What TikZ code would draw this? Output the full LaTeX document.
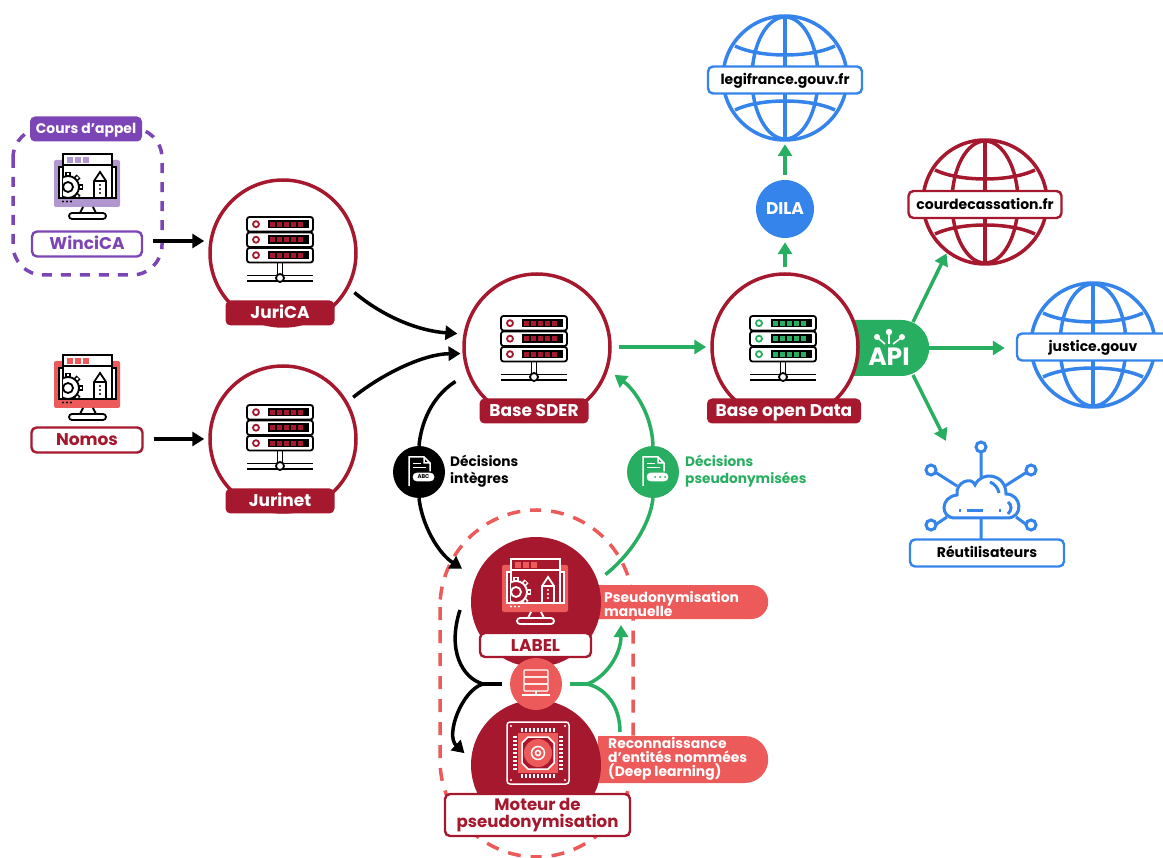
\documentclass[tikz,border=0pt]{standalone}
\usepackage{fontspec}
\setmainfont{Poppins}
\usetikzlibrary{arrows.meta, shapes.misc}

\definecolor{rouge}{HTML}{A5182E}
\definecolor{corail}{HTML}{EC5A5A}
\definecolor{vert}{HTML}{28AE60}
\definecolor{bleu}{HTML}{3584EC}
\definecolor{violet}{HTML}{7B45B5}
\definecolor{violetclair}{HTML}{B197CF}

\tikzset{
  base/.style={circle, draw=rouge, line width=3.5pt, fill=white, minimum size=146pt, inner sep=0pt},
  rond/.style={circle, fill=#1, minimum size=52pt, inner sep=0pt},
  plein/.style={circle, fill=rouge, minimum size=130pt, inner sep=0pt},
  monde/.style={circle, minimum size=126pt, inner sep=0pt},
  etiquette/.style={rectangle, rounded corners=5pt, fill=rouge, text=white, font=\bfseries\fontsize{17}{18}\selectfont, inner sep=0pt, minimum height=25pt, text height=13pt, text depth=1pt},
  cadre/.style={rectangle, rounded corners=5pt, draw=#1, fill=white, line width=2.4pt, inner sep=0pt, minimum height=27pt, text height=11pt, text depth=1pt, font=\bfseries\fontsize{14}{15}\selectfont},
  grandcadre/.style={cadre=#1, text=#1, minimum width=111pt, minimum height=25pt, text height=13pt, text depth=1pt, font=\bfseries\fontsize{17}{18}\selectfont},
  pilule/.style={rounded rectangle, rounded rectangle left arc=none, fill=corail, inner sep=0pt, anchor=west, minimum width=170pt},
  pilutexte/.style={text=white, align=left, anchor=west, inner sep=0pt, font=\bfseries\fontsize{13.9}{14}\selectfont},
  legende/.style={align=left, anchor=west, inner sep=0pt, font=\bfseries\fontsize{13.7}{17}\selectfont},
  tirets/.style={line width=3.5pt, dash pattern=on 13pt off 10pt},
  traitnoir/.style={black, line width=3.5pt},
  flechenoire/.style={traitnoir, -{Triangle[length=12pt,width=14pt]}},
  traitvert/.style={vert, line width=3.5pt},
  flecheverte/.style={traitvert, -{Triangle[length=12pt,width=14pt]}},
  pics/serveur/.style={code={
    \foreach \ry in {-33,-17.5,-2}{
      \draw[black, line width=1.8pt, rounded corners=2.5pt, fill=white] (-33,\ry) rectangle (33,\ry+14.5);
      \draw[#1, line width=1.8pt] (-24,\ry+7.2) circle (3pt);
      \fill[black] (-12,\ry+3) rectangle (29,\ry+11.5);
      \foreach \cx in {-10.5,-3.5,...,24}
        \fill[#1] (\cx,\ry+4.7) rectangle +(5.2,5);
    }
    \draw[black, line width=1.8pt] (-2.5,12.5) -- (-2.5,25) (2.5,12.5) -- (2.5,25);
    \draw[black, line width=1.8pt] (-33,25.5) -- (33,25.5) (-33,31) -- (33,31);
    \draw[black, line width=1.8pt, fill=white] (0,28) circle (4pt);
  }},
  pics/ecran/.style n args={3}{code={
    \fill[#2, rounded corners=2pt] (-34,-26) rectangle (32,21);
    \draw[#1, line width=1.8pt, fill=#3] (-29,-19) rectangle (28,12);
    \draw[#1, line width=1.8pt, fill=#3] (-25,-21) rectangle (24,12);
    \draw[#1, line width=1.8pt, fill=#3] (-25,-32) rectangle (24,-21);
    \foreach \cx in {-21,-13,-5}
      \fill[#2] (\cx,-29) rectangle +(6,6);
    \begin{scope}
      \clip (-25,-21) rectangle (24,11);
      \foreach \a in {0,45,...,315}{
        \draw[#1, line width=5.5pt] (-20,1)+(\a:11) -- +(\a:15);
        \draw[#3, line width=2.2pt] (-20,1)+(\a:11) -- +(\a:14);
      }
      \draw[#1, line width=1.8pt, fill=#3] (-20,1) circle (11pt);
      \draw[#1, line width=1.8pt] (-20,1) circle (5pt);
    \end{scope}
    \draw[#1, line width=1.8pt] (6,12) -- (6,-5) -- (12,-14) -- (18,-5) -- (18,12) (6,-5) -- (18,-5);
    \foreach \cy in {-1,3,7}
      \fill[#1] (12,\cy) circle (1.2pt);
    \foreach \cx in {-25,-21,-17}
      \fill[#1] (\cx,15.5) circle (1.2pt);
    \draw[#1, line width=1.8pt] (-5,21) -- (-8,27) (5,21) -- (8,27);
    \draw[#1, line width=1.8pt, rounded corners=3pt] (-19,27) rectangle (18,33);
  }},
  pics/globe/.style={code={
    \draw[#1, line width=3.5pt] (0,0) circle (62pt);
    \draw[#1, line width=3.5pt] (0,-62) -- (0,62);
    \draw[#1, line width=3.5pt] (0,0) ellipse (33pt and 61pt);
    \draw[#1, line width=3.5pt] (-50,-32) .. controls (-25,-20) and (25,-20) .. (50,-32);
    \draw[#1, line width=3.5pt] (-50,32) .. controls (-25,20) and (25,20) .. (50,32);
  }},
  pics/puce/.style={code={
    \draw[white, line width=1.5pt, rounded corners=3pt] (-31,-31) rectangle (31,31);
    \foreach \p in {-16,-12,...,16}{
      \draw[white, line width=1.5pt] (\p,-25) -- (\p,-21) (\p,21) -- (\p,25);
      \draw[white, line width=1.5pt] (-25,\p) -- (-21,\p) (21,\p) -- (25,\p);
    }
    \fill[corail] (-20,-20) rectangle (20,20);
    \draw[white, line width=1.5pt, fill=rouge] (-10,-16) -- (10,-16) -- (16,-10) -- (16,10) -- (10,16) -- (-10,16) -- (-16,10) -- (-16,-10) -- cycle;
    \fill[corail] (0,0) circle (14pt);
    \draw[white, line width=1.5pt] (0,0) circle (6.5pt);
    \draw[white, line width=1.5pt] (0,0) circle (2.5pt);
    \foreach \cx/\cy in {-27/-27,27/-27,-27/27,27/27}
      \fill[white] (\cx,\cy) circle (1.2pt);
  }},
  pics/document/.style={code={
    \draw[white, line width=1.5pt] (-10,14) -- (-10,-15) -- (5,-15) -- (11,-9) -- (11,0) (5,-15) -- (5,-9) -- (11,-9);
    \draw[white, line width=1pt] (-6,-8) -- (2,-8) (-6,-4) -- (7,-4);
    \draw[#1, line width=1.2pt, fill=white, rounded corners=4.5pt] (-7,0) rectangle (16,10);
  }}
}

\begin{document}
\begin{tikzpicture}[x=1pt, y=-1pt]
\useasboundingbox (0,0) rectangle (1163,858);

% groupes en tirets
\draw[violet, tirets, rounded corners=30pt, dash pattern=on 10pt off 9pt] (13,128) rectangle (162,275);
\draw[corail, tirets, rounded corners=97pt] (440,510) rectangle (633,857);

% cours d'appel
\node[etiquette, fill=violet, minimum width=112pt, text height=10pt, font=\bfseries\fontsize{13.9}{15}\selectfont] (cours) at (86,129) {Cours d’appel};
\pic at (88,186) {ecran={black}{violetclair}{white}};
\node[grandcadre=violet, minimum width=110pt] (winci) at (87,244) {WinciCA};

\pic at (88,387) {ecran={black}{corail}{white}};
\node[grandcadre=rouge] (nomos) at (87,440) {Nomos};

% API
\node[rounded rectangle, rounded rectangle left arc=none, fill=vert, anchor=west, minimum width=76pt, minimum height=56pt, inner sep=0pt] (api) at (853,348) {};
\node[text=white, inner sep=0pt, font=\bfseries\fontsize{25}{26}\selectfont] (apitxt) at (889,357) {API};
\draw[white, line width=1.6pt] (878,338) -- (885,344) (889,333) -- (889,344) (901,338) -- (893,344);
\fill[white] (877,337) circle (3pt) (889,332) circle (3.2pt) (902,337) circle (3pt);

% bases
\node[base] (jurica) at (283,253) {};
\pic at (280,250) {serveur=rouge};
\node[etiquette, minimum width=109pt] (juricatxt) at (280,313) {JuriCA};

\node[base] (jurinet) at (283,439) {};
\pic at (280,438) {serveur=rouge};
\node[etiquette, minimum width=109pt] (jurinettxt) at (280,501) {Jurinet};

\node[base] (sder) at (537,347) {};
\pic at (534,349) {serveur=rouge};
\node[etiquette, minimum width=109pt] (sdertxt) at (534,411) {Base SDER};

\node[base] (opendata) at (785,347) {};
\pic at (783,349) {serveur=vert};
\node[etiquette, minimum width=154pt] (opendatatxt) at (784,411) {Base open Data};

% sites
\node[monde] (legiglobe) at (785,78) {};
\pic at (785,78) {globe=bleu};
\node[cadre=bleu, minimum width=154pt] (legi) at (785,80) {legifrance.gouv.fr};

\node[monde] (courglobe) at (985,202) {};
\pic at (985,202) {globe=rouge};
\node[cadre=rouge, minimum width=153pt] (cour) at (985,204.5) {courdecassation.fr};

\node[monde] (justiceglobe) at (1093,345) {};
\pic at (1093,345) {globe=bleu};
\node[cadre=bleu, minimum width=152pt] (justice) at (1093,347) {justice.gouv};

\node[rond=bleu, minimum size=58pt, text=white, font=\bfseries\fontsize{17}{18}\selectfont] (dila) at (785,209) {DILA};

% reutilisateurs
\begin{scope}[bleu, line width=3pt]
  \draw (981,478) -- (981,452) (957,486) -- (935,472) (1005,486) -- (1027,472);
  \draw (947,517) -- (935,525) (1016,517) -- (1027,525) (981,518) -- (981,539);
  \draw (981,447) circle (5pt) (931,470) circle (5pt) (1031,470) circle (5pt);
  \draw (931,525) circle (5pt) (1031,525) circle (5pt);
  \draw[fill=white] (955,518) .. controls (940,518) and (940,497) .. (957,495)
    .. controls (955,482) and (972,476) .. (975,485)
    .. controls (982,470) and (1006,474) .. (1006,494)
    .. controls (1022,494) and (1024,518) .. (1007,518) -- cycle;
  \draw (967,511) -- (983,511) (959,511) -- (961,511) (999,511) -- (1001,511);
  \draw (990,482) .. controls (995,484) and (998,488) .. (999,493);
  \draw (1008,502) .. controls (1012,505) and (1012,510) .. (1008,514);
\end{scope}
\node[cadre=bleu, minimum width=154pt] (reutil) at (987,553) {Réutilisateurs};

% pseudonymisation
\node[pilule, minimum height=34pt] (manuelle) at (598,602) {};
\node[pilule, minimum height=47pt] (entites) at (598,759.5) {};
\node[pilutexte] (manuelletxt) at (604,603.5) {Pseudonymisation\\manuelle};
\node[pilutexte] (entitestxt) at (608,759) {Reconnaissance\\d’entités nommées\\(Deep learning)};

\node[plein] (labelc) at (536,602) {};
\pic at (536,591) {ecran={white}{corail}{rouge}};
\node[plein] (moteur) at (536,765) {};
\pic at (538,753) {puce};
\node[grandcadre=rouge, minimum height=24pt] (labeltxt) at (535.5,645) {LABEL};
\node[grandcadre=rouge, minimum width=185pt, minimum height=42pt, align=center, text height=, text depth=, font=\bfseries\fontsize{16.6}{16.5}\selectfont] (moteurtxt) at (537.5,815) {Moteur de\\pseudonymisation};

\node[rond=corail] (hub) at (536,684) {};
\begin{scope}[shift={(536,684)}, white, line width=1.3pt]
  \foreach \ry in {-14,-7,0}
    \draw[rounded corners=1pt] (-12,\ry) rectangle (12,\ry+7);
  \draw (0,7) -- (0,11) (-14,11) -- (14,11);
\end{scope}

% liaisons
\coordinate (fourchenoire) at (483,684);
\coordinate (fourcheverte) at (587,684);
\coordinate (hautnoir) at (460,610);
\coordinate (basvert) at (620,732);
\coordinate (hautvert) at (621,619);
\coordinate (apihaut) at (913,322);
\coordinate (apibas) at (913,375);

\draw[flechenoire, shorten >=4pt] (winci.east) ++(10,-3) -- (jurica.west |- 0,241);
\draw[flechenoire, shorten >=4pt] (nomos.east) ++(10,-1) -- (jurinet.west |- 0,439);
\draw[flechenoire, shorten <=7pt, shorten >=6pt] (jurica.-28) .. controls (385,318) and (420,331) .. (sder.170);
\draw[flechenoire, shorten <=7pt, shorten >=2pt] (jurinet.30) .. controls (385,372) and (425,354) .. (sder.-175);

\node[rond=black] (integres) at (419,472) {};
\pic at (419,472) {document=black};
\node[text=black, inner sep=0pt, font=\bfseries\fontsize{5.5}{6}\selectfont] (abc) at (423.5,477) {ABC};
\node[legende] (integrestxt) at (450,471) {Décisions\\intègres};
\draw[traitnoir, shorten <=14pt] (sder.-159) .. controls (430,398) and (421,425) .. (integres.north);
\draw[flechenoire, shorten >=16pt] (integres.south) .. controls (422,525) and (438,553) .. (labelc.158);

\node[rond=vert] (pseudos) at (653,472) {};
\pic at (653,472) {document=vert};
\foreach \cx in {655,660,665}
  \fill[vert] (\cx,477) circle (1pt);
\node[legende, text=vert] (pseudostxt) at (685,471) {Décisions\\pseudonymisées};
\draw[traitvert, shorten <=10pt] (labelc.19) .. controls (630,555) and (650,525) .. (pseudos.south);
\draw[flecheverte, shorten >=8pt] (pseudos.north) .. controls (652,415) and (635,390) .. (sder.-18);

\draw[flecheverte, shorten <=7pt, shorten >=4pt] (sder.east) -- (opendata.west);
\draw[flecheverte, shorten <=5pt, shorten >=4pt] (opendata.north) -- (dila.south);
\draw[flecheverte, shorten <=5pt, shorten >=3pt] (dila.north) -- (legiglobe.south);
\draw[flecheverte, shorten >=1pt] (apihaut) -- (courglobe.233);
\draw[flecheverte, shorten >=25pt] (api.east) -- (api.east -| justiceglobe.west);
\draw[flecheverte] (apibas) -- (946,441);

\draw[traitnoir, shorten <=8pt] (hub.west) -- (fourchenoire);
\draw[traitnoir] (fourchenoire) .. controls (462,678) and (447,650) .. (hautnoir);
\draw[flechenoire, shorten >=9pt] (fourchenoire) .. controls (462,690) and (445,735) .. (moteur.175);
\draw[traitvert, shorten <=8pt] (hub.east) -- (fourcheverte);
\draw[flecheverte, shorten >=6pt] (fourcheverte) .. controls (605,678) and (621,655) .. (hautvert);
\draw[traitvert] (fourcheverte) .. controls (605,688) and (620,705) .. (basvert);
\end{tikzpicture}
\end{document}
